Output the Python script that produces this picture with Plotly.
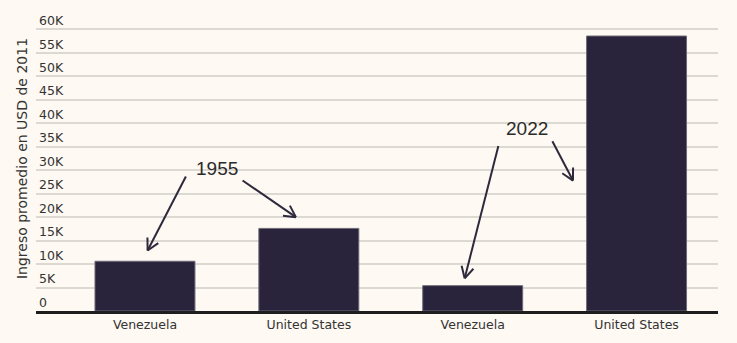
import math
import plotly.graph_objects as go

# Average income (2011 USD)
categories = ["Venezuela", "United States", "Venezuela", "United States"]
years = ["1955", "1955", "2022", "2022"]
income = [10600, 17600, 5400, 58600]

y_ticks = list(range(0, 60001, 5000))
y_tick_labels = ["0"] + [f"{v // 1000}K" for v in y_ticks[1:]]

BG = "#fef9f2"
BAR = "#29233b"
INK = "#2e2a3e"
TEXT = "#333333"
positions = list(range(len(categories)))

fig = go.Figure(
    go.Bar(
        x=positions,
        y=income,
        width=0.61,
        marker=dict(color=BAR, line=dict(color="#6e6a78", width=1)),
        customdata=years,
        hovertemplate="%{customdata}: %{y:,.0f}<extra></extra>",
    )
)

# Year callouts: label positions, arrow tips (data units) and tails (pixel offsets from tip)
callouts = [
    dict(text="1955", x=0.442, y=30300),
    dict(text="2022", x=2.334, y=38900),
]
arrows = [
    dict(x=0.016, y=12900, dx=38.3, dy=74.0),
    dict(x=0.921, y=20000, dx=-53.3, dy=36.7),
    dict(x=1.951, y=6960, dx=33.7, dy=132.3),
    dict(x=2.612, y=27800, dx=-20.6, dy=39.3),
]

for c in callouts:
    fig.add_annotation(
        x=c["x"], y=c["y"], text=c["text"], showarrow=False,
        font=dict(family="Liberation Sans", size=19, color="#2b2b2b"),
    )

head_len, head_ang = 13, math.radians(28)
line_style = dict(color=INK, width=2)
for a in arrows:
    common = dict(type="line", xref="x", yref="y", xsizemode="pixel", ysizemode="pixel",
                  xanchor=a["x"], yanchor=a["y"], line=line_style)
    fig.add_shape(x0=0, y0=0, x1=a["dx"], y1=a["dy"], **common)
    base = math.atan2(a["dy"], a["dx"])
    for s in (-1, 1):
        ang = base + s * head_ang
        fig.add_shape(x0=0, y0=0, x1=head_len * math.cos(ang), y1=head_len * math.sin(ang), **common)

fig.update_layout(
    width=737, height=343,
    margin=dict(l=36, r=19, t=6, b=32),
    paper_bgcolor=BG, plot_bgcolor=BG,
    showlegend=False,
    font=dict(family="DejaVu Sans", color=TEXT),
    xaxis=dict(
        range=[-0.665, 3.497],
        tickmode="array", tickvals=positions, ticktext=categories,
        tickfont=dict(family="DejaVu Sans", size=12.5, color=TEXT),
        showgrid=False, zeroline=False,
        showline=True, linecolor="#1e1e1e", linewidth=2.5,
        ticks="", fixedrange=True,
    ),
    yaxis=dict(
        range=[0, 65000],
        tickmode="array", tickvals=y_ticks, ticktext=y_tick_labels,
        ticklabelposition="inside top",
        tickfont=dict(family="DejaVu Sans", size=12.5, color=TEXT),
        showgrid=True, gridcolor="#dcd8d2", gridwidth=1.5,
        zeroline=False, showline=False, ticks="",
        title=dict(text="Ingreso promedio en USD de 2011",
                   font=dict(family="DejaVu Sans", size=14, color=TEXT), standoff=8),
        fixedrange=True,
    ),
)

fig.write_html("out.html")
